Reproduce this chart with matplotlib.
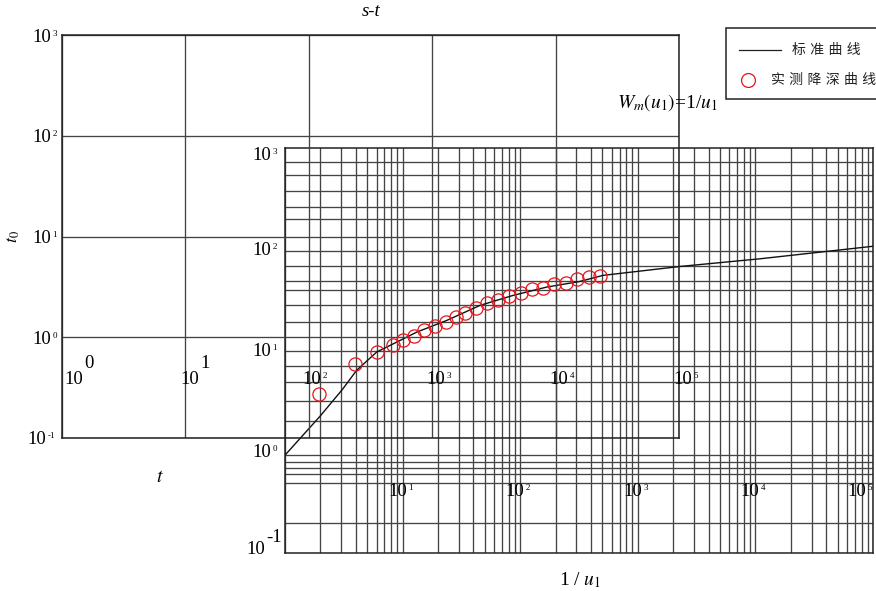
import numpy as np
import matplotlib
matplotlib.use('Agg')
import matplotlib.pyplot as plt
from matplotlib.ticker import LogLocator, NullLocator
from matplotlib.transforms import offset_copy, blended_transform_factory
from matplotlib.patches import Rectangle
from matplotlib.lines import Line2D

plt.rcParams['font.family'] = ['Liberation Serif', 'DejaVu Serif']
plt.rcParams['mathtext.fontset'] = 'stix'

# standard type curve W(u) against 1/u (back chart)
curve_x = [1.0, 1.99, 3.07, 4.07, 6.03, 8.91, 13.2, 23.7, 45.5, 86.9, 168, 322, 506,
           2285, 10940, 100000]
curve_y = [0.925, 2.25, 4.11, 6.38, 9.67, 12.1, 15.2, 19.8, 27.9, 35.0, 42.3, 48.1,
           55.2, 67.6, 80.5, 107]

# measured drawdown s against t (front chart)
t_obs = [121, 237, 357, 481, 585, 712, 859, 1054, 1286, 1550, 1845, 2264, 2797,
         3435, 4218, 5215, 6400, 7950, 9700, 12140, 14990, 18650, 22900]
s_obs = [0.273, 0.542, 0.714, 0.829, 0.94, 1.03, 1.17, 1.29, 1.43, 1.58, 1.75, 1.94, 2.17,
         2.34, 2.58, 2.73, 2.99, 3.06, 3.38, 3.43, 3.76, 3.94, 4.08]

# horizontal rulings of the type-curve paper
back_grid_y = [0.198, 0.490, 0.601, 0.689, 0.789, 0.925, 2.00, 3.16, 4.86, 6.98, 10.0,
               19.0, 27.9, 39.2, 48.1, 67.6, 95.1, 197, 264, 372, 547, 734]

W, H = 876, 591
fig = plt.figure(figsize=(W / 100, H / 100), dpi=100)
fig.patch.set_facecolor('white')

ax_b = fig.add_axes([285 / W, 1 - 553 / H, 588 / W, 405 / H])
ax_f = fig.add_axes([62 / W, 1 - 438 / H, 617 / W, 403 / H])
ax_f.set_facecolor('none')

gc = '#444444'
for ax in (ax_b, ax_f):
    ax.set_xscale('log')
    ax.set_yscale('log')
    ax.set_xlim(1, 1e5)
    ax.set_ylim(0.1, 1000)
    ax.tick_params(which='both', length=0, labelleft=False, labelbottom=False)
    for sp in ax.spines.values():
        sp.set_color('#222222')
        sp.set_linewidth(1.1)

# back chart grid
ax_b.xaxis.set_major_locator(LogLocator(base=10, numticks=10))
ax_b.xaxis.set_minor_locator(LogLocator(base=10, subs=np.arange(2, 10), numticks=20))
ax_b.set_yticks(back_grid_y)
ax_b.yaxis.set_minor_locator(NullLocator())
ax_b.grid(True, which='both', color=gc, lw=0.95)
ax_b.plot(curve_x, curve_y, color='#111111', lw=1.0, zorder=3)

# front chart grid
ax_f.xaxis.set_major_locator(LogLocator(base=10, numticks=10))
ax_f.xaxis.set_minor_locator(NullLocator())
ax_f.yaxis.set_major_locator(LogLocator(base=10, numticks=10))
ax_f.yaxis.set_minor_locator(NullLocator())
ax_f.grid(True, which='major', color=gc, lw=0.95)
ax_f.plot(t_obs, s_obs, ls='none', marker='o', mfc='none', mec='#e8141c',
          ms=9.5, mew=0.9, zorder=5, clip_on=False)


def pow10(ax, x, y, exp, tr, ha='left', dx=0, dy=0, size=13.5, esize=6.5, rise=3.5):
    em = size * 100 / 72.0
    w10 = em
    wexp = 0.5 * esize * 100 / 72.0 * len(exp) + 1.5
    total = w10 + wexp
    start = {'left': 0, 'center': -total / 2, 'right': -total}[ha] + dx
    ax.text(x, y, '10', transform=offset_copy(tr, x=start, y=dy, units='dots'),
            fontsize=size, ha='left', va='center')
    ax.text(x, y, exp, transform=offset_copy(tr, x=start + w10 + 1.5, y=dy + rise, units='dots'),
            fontsize=esize, ha='left', va='center')


# front y labels
tr = blended_transform_factory(ax_f.transAxes, ax_f.transData)
for k in [3, 2, 1, 0, -1]:
    pow10(ax_f, 0, 10.0 ** k, str(k), tr, ha='right', dx=-5, dy=-2)

# front x labels (first two drawn with a full-size exponent)
tr = blended_transform_factory(ax_f.transData, ax_f.transAxes)
for k in [0, 1]:
    pow10(ax_f, 10.0 ** k, 0.146, str(k), tr, ha='left', dx=2 if k == 0 else -5,
          esize=13.5, rise=16)
for k in [2, 3, 4, 5]:
    pow10(ax_f, 10.0 ** k, 0.146, str(k), tr, ha='left', dx=-6)

# back y labels
tr = blended_transform_factory(ax_b.transAxes, ax_b.transData)
for k in [3, 2, 1, 0]:
    pow10(ax_b, 0, 10.0 ** k, str(k), tr, ha='right', dx=-8, dy=-7 if k == 3 else -1)
pow10(ax_b, 0, 0.1, '-1', tr, ha='right', dx=0, dy=3, esize=13.5, rise=12)

# back x labels
tr = blended_transform_factory(ax_b.transData, ax_b.transAxes)
for k in [1, 2, 3, 4]:
    pow10(ax_b, 10.0 ** k, 0.151, str(k), tr, ha='left', dx=-14.5)
pow10(ax_b, 1e5, 0.151, '5', tr, ha='left', dx=-26)

# titles and axis labels
fig.text(371 / W, 1 - 12 / H, 's-t', style='italic', fontsize=13.5, ha='center', va='center')
fig.text(160 / W, 1 - 478 / H, '$t$', fontsize=14, ha='center', va='center')
fig.text(14 / W, 1 - 237 / H, '$t_0$', fontsize=13, ha='center', va='center', rotation=90)
fig.text(580 / W, 1 - 580 / H, '1 / $u_1$', fontsize=14, ha='center', va='center')
fig.text(617 / W, 1 - 103 / H, r'$W_m(u_1)$=1/$u_1$', fontsize=14, ha='left', va='center')

# legend box
fig.add_artist(Rectangle((726 / W, 1 - 99 / H), 200 / W, 71 / H, transform=fig.transFigure,
                         facecolor='white', edgecolor='#222222', lw=1.1))
fig.add_artist(Line2D([739 / W, 781 / W], [1 - 50 / H, 1 - 50 / H], transform=fig.transFigure,
                      color='#222222', lw=0.9))
fig.add_artist(Line2D([748 / W], [1 - 80 / H], transform=fig.transFigure, ls='none', marker='o',
                      mfc='none', mec='#e8141c', ms=10, mew=0.9))
cjk = ['DejaVu Sans', 'Noto Sans CJK SC']
fig.text(792 / W, 1 - 50 / H, '标 准 曲 线', family=cjk, fontsize=10, color='#222222',
         ha='left', va='center')
fig.text(771 / W, 1 - 80 / H, '实 测 降 深 曲 线', family=cjk, fontsize=10, color='#222222',
         ha='left', va='center')

fig.savefig('out.png', dpi=100)
